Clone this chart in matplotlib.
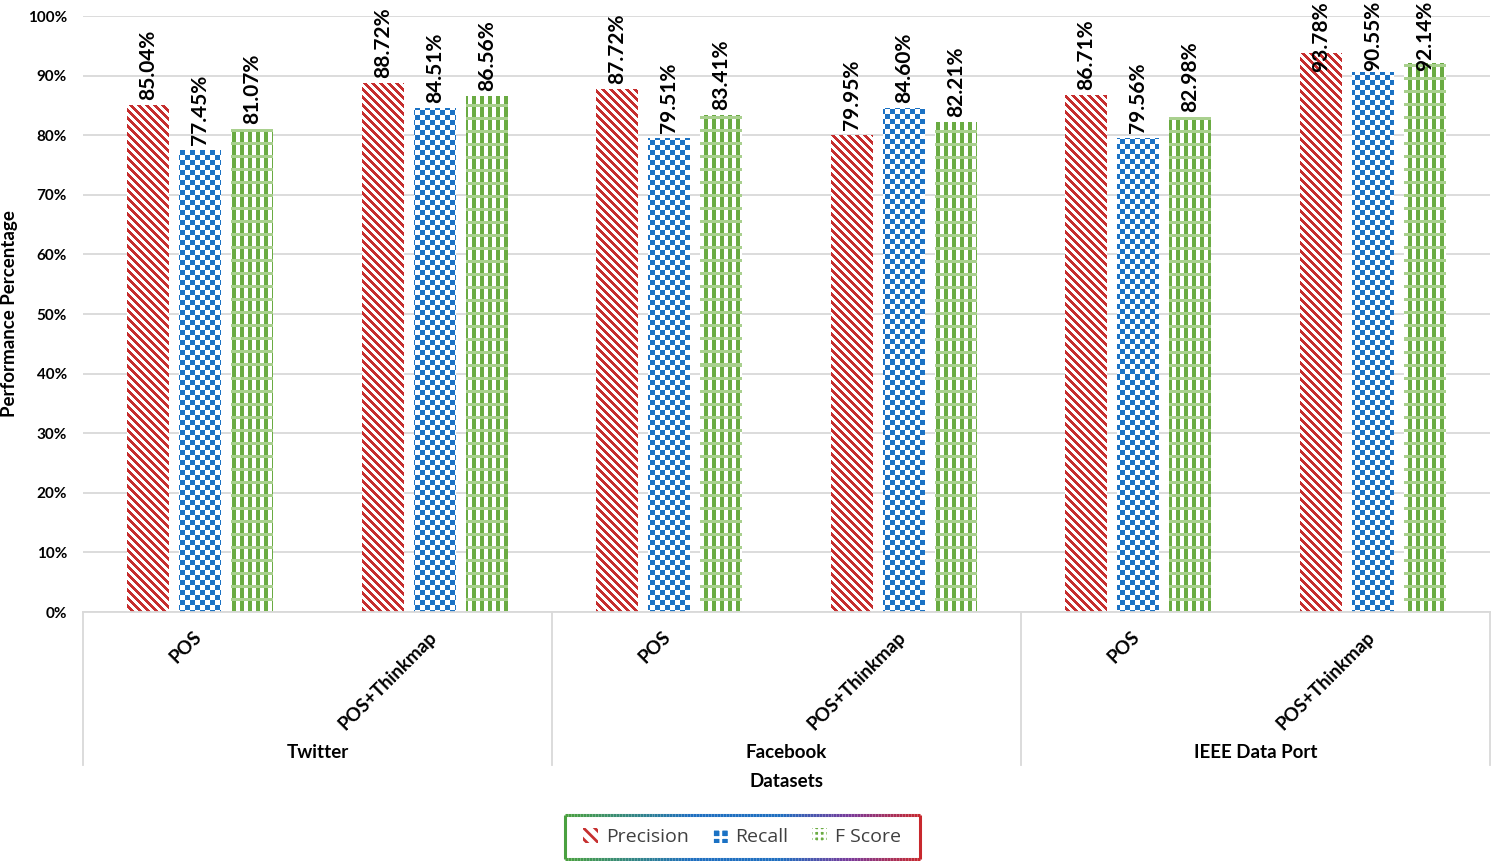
import matplotlib
matplotlib.use('Agg')
import matplotlib.pyplot as plt
import numpy as np
from matplotlib.patches import Patch
from matplotlib.collections import LineCollection
from matplotlib.colors import LinearSegmentedColormap, to_rgb

#======= Donnees =======

datasets = ['Twitter', 'Facebook', 'IEEE Data Port']
methods = ['POS', 'POS+Thinkmap']
precision = [85.04, 88.72, 87.72, 79.95, 86.71, 93.78]
recall = [77.45, 84.51, 79.51, 84.60, 79.56, 90.55]
f_score = [81.07, 86.56, 83.41, 82.21, 82.98, 92.14]
series_names = ['Precision', 'Recall', 'F Score']
y_ticks = [0, 10, 20, 30, 40, 50, 60, 70, 80, 90, 100]

#======= Style =======

red = '#c62f2f'
blue = '#1b72c4'
green = '#6aab42'
green_light = '#a9d08e'
grid_col = '#d9d9d9'
FONT = 'Lato'

W, H, DPI = 1494, 861, 100
fig = plt.figure(figsize=(W / DPI, H / DPI), dpi=DPI)
ax = fig.add_axes([83 / W, 1 - 612 / H, (1490 - 83) / W, 596 / H])

n = len(precision)
x = np.arange(n)
bw = 0.179
off = 0.222

ax.set_xlim(-0.5, n - 0.5)
ax.set_ylim(0, 100)


# textures: 0 = blanc, 1 = couleur, 2 = couleur claire
def tex_stripes(r, c):
    return (((c - r) % 8) < 4).astype(int)


def tex_checker(r, c):
    return (((r // 5 + c // 5) % 2) == 0).astype(int)


def tex_plaid(r, c):
    dark = ((c % 8) < 4).astype(int)
    band = (r % 13) < 3
    return np.where(band, 2, dark)


def draw_textured(vals, xs, color, tex, light='white'):
    bars = ax.bar(xs, vals, bw, facecolor='none', edgecolor='none', zorder=2)
    palette = np.array([to_rgb('white'), to_rgb(color), to_rgb(light)])
    for p in bars.patches:
        x0, y0 = p.get_x(), p.get_y()
        x1, y1 = x0 + p.get_width(), y0 + p.get_height()
        (px0, py0), (px1, py1) = ax.transData.transform([(x0, y0), (x1, y1)])
        w = max(int(round(px1 - px0)), 1)
        h = max(int(round(py1 - py0)), 1)
        r = np.arange(h)[:, None] + int(round(H - py1))
        c = np.arange(w)[None, :] + int(round(px0))
        img = palette[tex(r, c)]
        im = ax.imshow(img, extent=(x0, x1, y0, y1), aspect='auto',
                       interpolation='nearest', origin='upper', zorder=2)
        im.set_clip_path(p)
    return bars


draw_textured(precision, x - off, red, tex_stripes)
draw_textured(recall, x, blue, tex_checker)
draw_textured(f_score, x + off, green, tex_plaid, green_light)
ax.set_xlim(-0.5, n - 0.5)
ax.set_ylim(0, 100)

# etiquettes des valeurs
labels = []
for xs, vals in [(x - off, precision), (x, recall), (x + off, f_score)]:
    for xi, v in zip(xs, vals):
        t = ax.annotate(f'{v:.2f}%', xy=(xi, v), xytext=(0, 3.6),
                        textcoords='offset points', rotation=90,
                        ha='center', va='bottom', fontsize=15,
                        fontweight='bold', family=FONT, annotation_clip=False)
        labels.append(t)

# axes
ax.yaxis.grid(True, color=grid_col, lw=1.3)
ax.set_axisbelow(True)
for s in ['top', 'right', 'left']:
    ax.spines[s].set_visible(False)
ax.spines['bottom'].set_color(grid_col)
ax.spines['bottom'].set_linewidth(1.3)
ax.set_yticks(y_ticks)
ax.set_yticklabels([f'{v}%' for v in y_ticks], fontsize=11,
                   fontweight='bold', family=FONT)
ax.tick_params(axis='y', length=0, pad=11.5)
ax.set_xticks([])

# axe hierarchique
xt = ax.get_xaxis_transform()
for b in [-0.5, 1.5, 3.5, 5.5]:
    ax.plot([b, b], [0, -0.257], color=grid_col, lw=1.3, transform=xt,
            clip_on=False)
for i in range(n):
    ax.text(i - 0.03, -0.027, methods[i % 2], transform=xt, rotation=45,
            rotation_mode='anchor', ha='right', va='top', fontsize=13.5,
            fontweight='bold', family=FONT)
for j, d in enumerate(datasets):
    ax.text(2 * j + 0.5, -0.235, d, transform=xt, ha='center', va='center',
            fontsize=13.5, fontweight='bold', family=FONT)
ax.text(2.5, -0.284, 'Datasets', transform=xt, ha='center', va='center',
        fontsize=13.5, fontweight='bold', family=FONT)

fig.text(10 / W, 1 - 314 / H, 'Performance Percentage', rotation=90,
         ha='center', va='center', fontsize=13.5, fontweight='bold',
         family=FONT)

# legende
plt.rcParams['hatch.linewidth'] = 2.0
handles = [Patch(facecolor='white', edgecolor=red, hatch='\\\\\\', lw=0),
           Patch(facecolor=blue, edgecolor='white', hatch='++', lw=0),
           Patch(facecolor=green, edgecolor='white', hatch='+++', lw=0)]
leg = fig.legend(handles, series_names, loc='center',
                 bbox_to_anchor=(742 / W, 1 - 837 / H), ncol=3, frameon=False,
                 prop={'family': 'Open Sans', 'size': 14},
                 handlelength=0.8, handleheight=0.8, handletextpad=0.4,
                 columnspacing=1.2, labelcolor='#404040')

# cadre degrade de la legende
bx0, bx1, by0, by1 = 565, 920, 815, 859
cmap = LinearSegmentedColormap.from_list(
    'cadre', [(0, '#4aa040'), (0.35, '#1f6fc0'), (0.6, '#1f6fc0'),
              (0.8, '#7a3a9a'), (1, '#c8282d')])
xs_b = np.linspace(bx0, bx1, 120)
segs, cols = [], []
for yy in [by0, by1]:
    for a, b in zip(xs_b[:-1], xs_b[1:]):
        segs.append([(a / W, 1 - yy / H), (b / W, 1 - yy / H)])
        cols.append(cmap((a - bx0) / (bx1 - bx0)))
segs.append([(bx0 / W, 1 - by0 / H), (bx0 / W, 1 - by1 / H)])
cols.append(cmap(0.0))
segs.append([(bx1 / W, 1 - by0 / H), (bx1 / W, 1 - by1 / H)])
cols.append(cmap(1.0))
fig.add_artist(LineCollection(segs, colors=cols, linewidths=2.2,
                              transform=fig.transFigure))

# garder les etiquettes dans la figure
fig.canvas.draw()
rend = fig.canvas.get_renderer()
for t in labels:
    bb = t.get_window_extent(rend)
    if bb.y1 > H - 1:
        dy = (bb.y1 - (H - 1)) * 72 / DPI
        t.xyann = (0, 3.6 - dy)

fig.savefig('out.png', dpi=DPI)
